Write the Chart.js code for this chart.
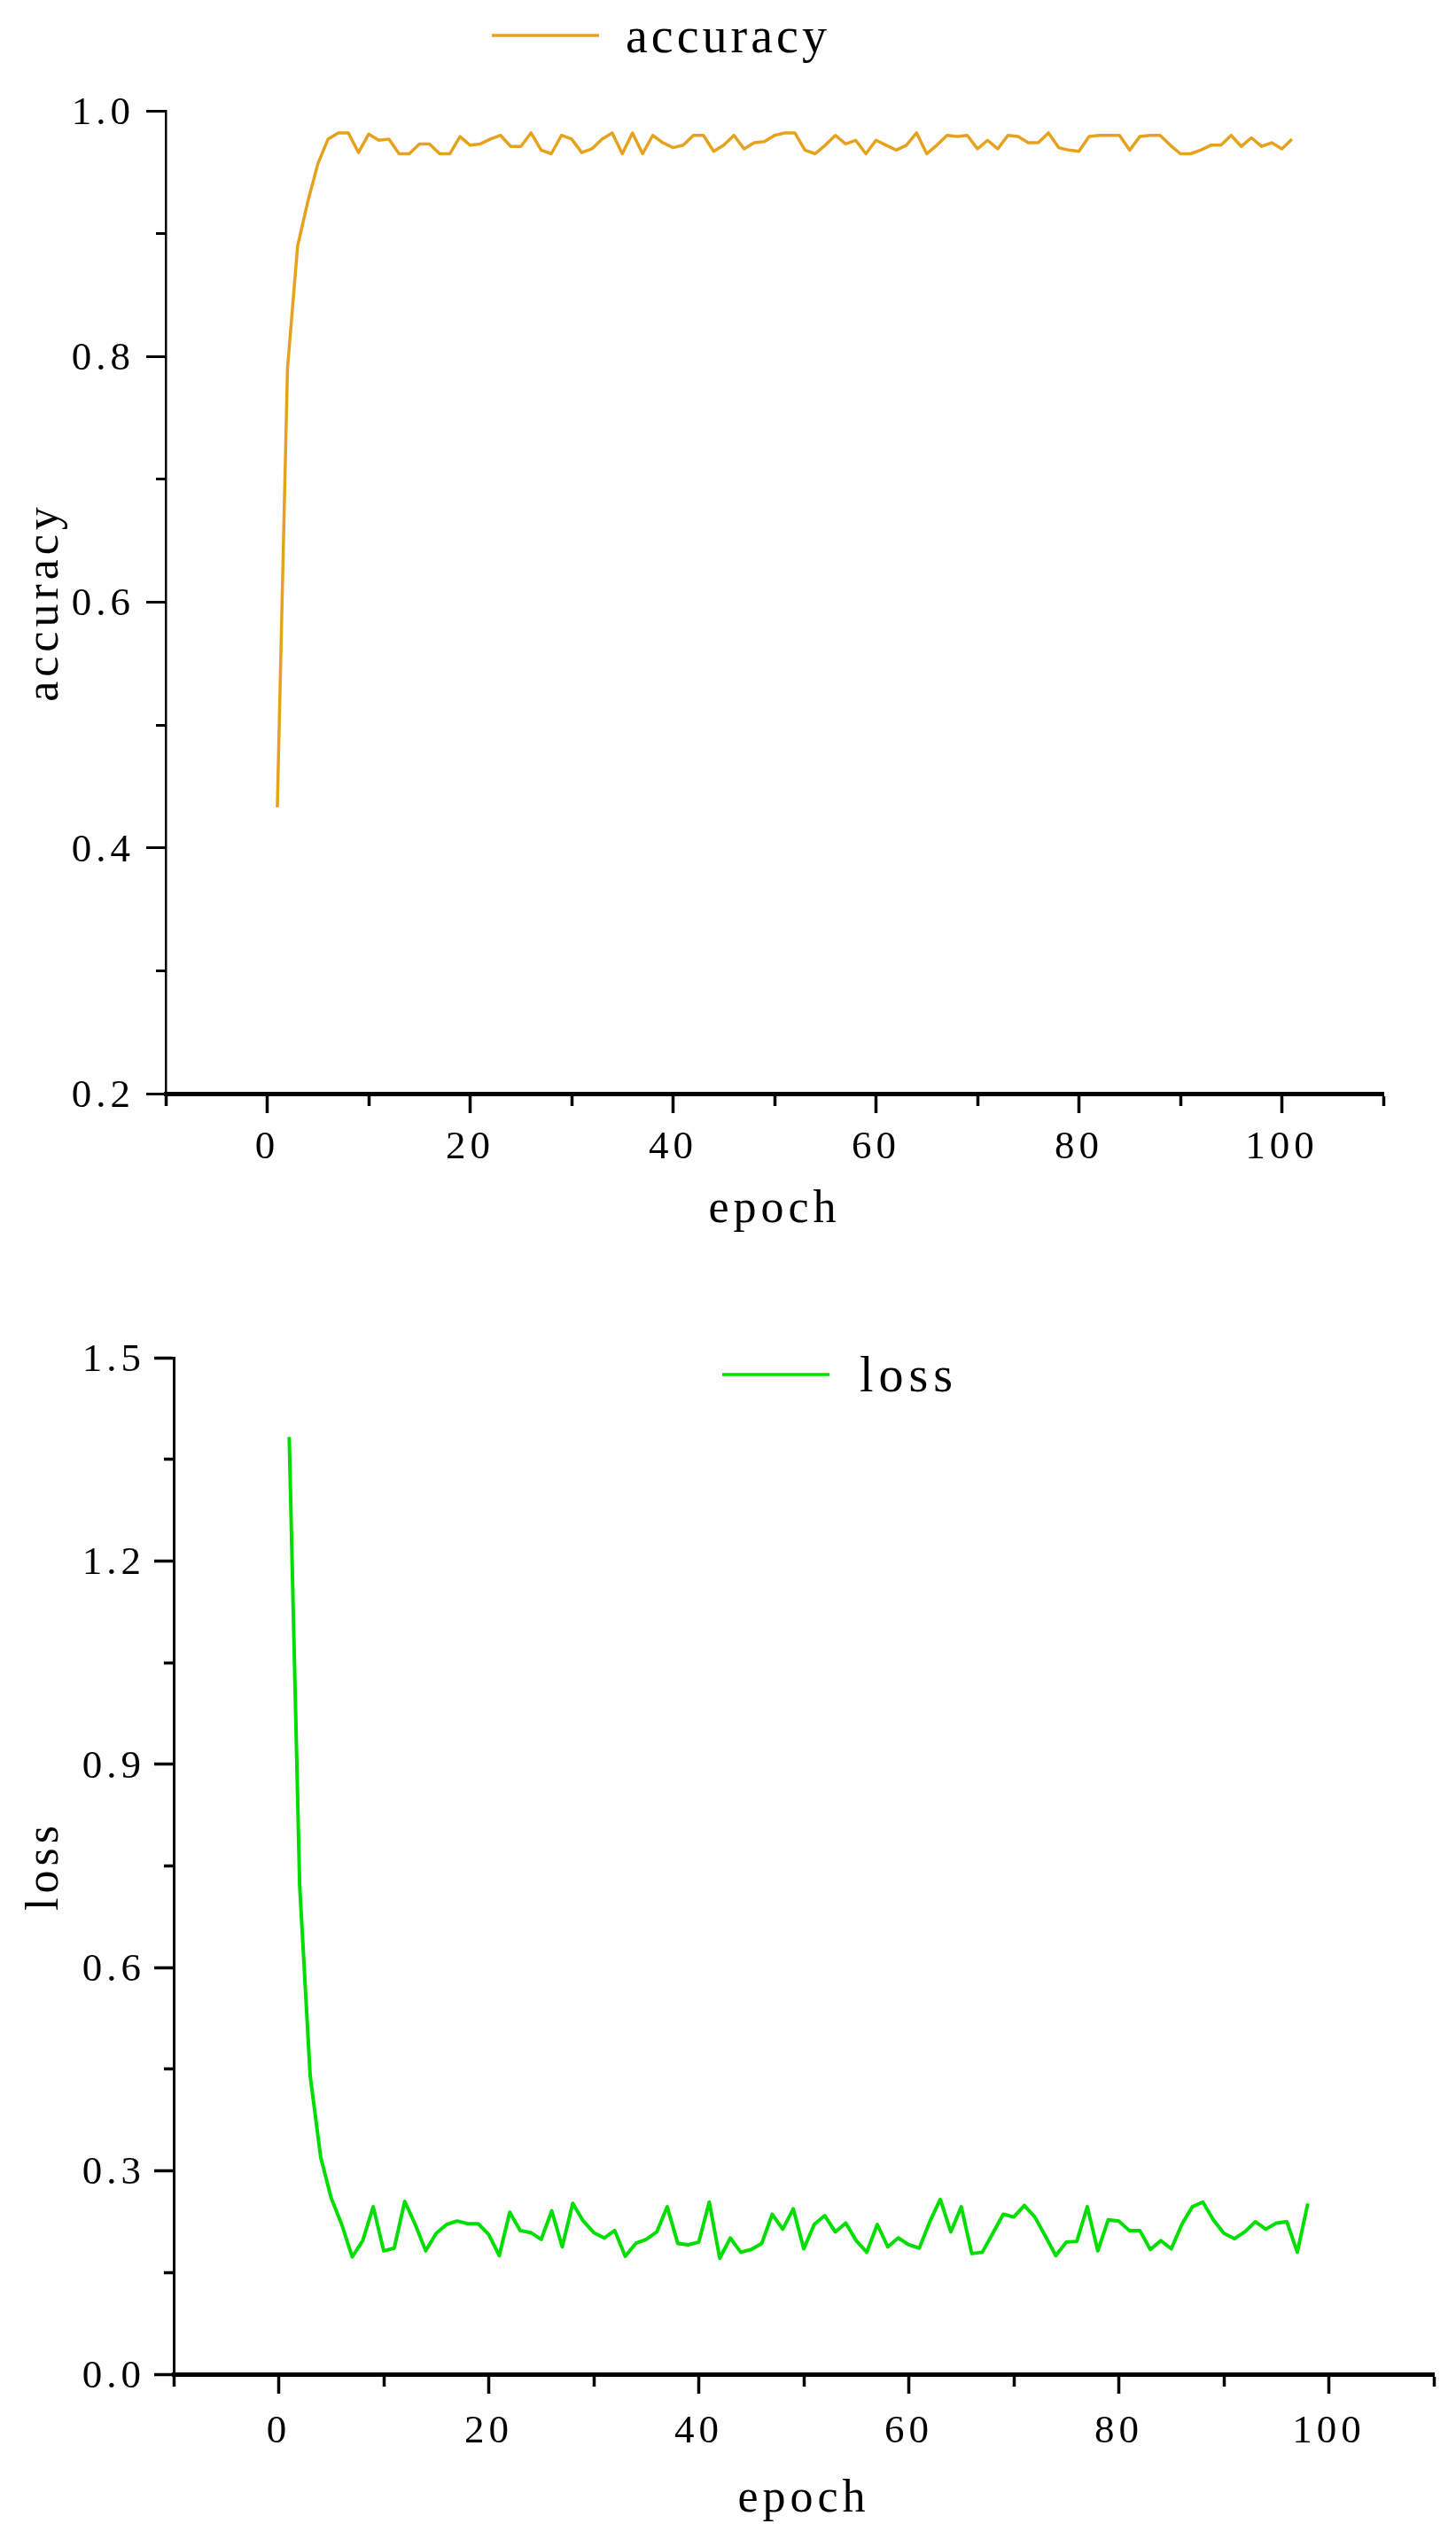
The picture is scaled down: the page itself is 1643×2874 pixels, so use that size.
<!DOCTYPE html>
<html>
<head>
<meta charset="utf-8">
<script src="https://cdn.jsdelivr.net/npm/chart.js@4.4.1/dist/chart.umd.min.js"></script>
<style>
  html, body { margin: 0; padding: 0; background: #ffffff; }
  #wrap { position: relative; width: 1643px; height: 2874px; overflow: hidden; background: #ffffff; }
  canvas { position: absolute; left: 0; }
  #accChart { top: 0; }
  #lossChart { top: 1437px; }
</style>
</head>
<body>
<div id="wrap">
  <canvas id="accChart" width="1643" height="1437"></canvas>
  <canvas id="lossChart" width="1643" height="1437"></canvas>
</div>
<script>
// ---------------- data ----------------
const accuracyValues = [
  0.433, 0.790, 0.890, 0.926, 0.957, 0.977, 0.982, 0.982, 0.966, 0.981,
  0.976, 0.977, 0.965, 0.965, 0.973, 0.973, 0.965, 0.965, 0.979, 0.972,
  0.973, 0.977, 0.980, 0.971, 0.971, 0.982, 0.968, 0.965, 0.980, 0.977,
  0.966, 0.969, 0.977, 0.982, 0.965, 0.982, 0.965, 0.980, 0.974, 0.970,
  0.972, 0.980, 0.980, 0.967, 0.972, 0.980, 0.969, 0.974, 0.975, 0.980,
  0.982, 0.982, 0.968, 0.965, 0.972, 0.980, 0.973, 0.976, 0.965, 0.976,
  0.972, 0.968, 0.972, 0.982, 0.965, 0.972, 0.980, 0.979, 0.980, 0.969,
  0.976, 0.969, 0.980, 0.979, 0.974, 0.974, 0.982, 0.970, 0.968, 0.967,
  0.979, 0.980, 0.980, 0.980, 0.968, 0.979, 0.980, 0.980, 0.972, 0.965,
  0.965, 0.968, 0.972, 0.972, 0.980, 0.971, 0.978, 0.971, 0.974, 0.969,
  0.977
];
const lossValues = [
  1.383, 0.720, 0.440, 0.320, 0.260, 0.221, 0.173, 0.197, 0.247, 0.182,
  0.186, 0.255, 0.221, 0.182, 0.208, 0.221, 0.226, 0.222, 0.222, 0.206,
  0.175, 0.239, 0.212, 0.209, 0.199, 0.241, 0.188, 0.252, 0.226, 0.209,
  0.201, 0.212, 0.174, 0.193, 0.199, 0.210, 0.247, 0.193, 0.191, 0.195,
  0.254, 0.171, 0.201, 0.180, 0.184, 0.193, 0.236, 0.214, 0.244, 0.185,
  0.221, 0.234, 0.210, 0.223, 0.197, 0.180, 0.221, 0.188, 0.201, 0.191,
  0.186, 0.225, 0.258, 0.210, 0.247, 0.178, 0.180, 0.208, 0.236, 0.232,
  0.249, 0.232, 0.204, 0.175, 0.195, 0.196, 0.247, 0.182, 0.228, 0.226,
  0.212, 0.212, 0.184, 0.197, 0.185, 0.221, 0.247, 0.254, 0.228, 0.208,
  0.200, 0.210, 0.225, 0.214, 0.223, 0.225, 0.180, 0.252
];
// epochs (categories): 1..N
const accuracyEpochs = accuracyValues.map((_, i) => i + 1);
const lossEpochs = lossValues.map((_, i) => i + 1);

// tick values
const epochMajorTicks = [0, 20, 40, 60, 80, 100];
const epochMinorTicks = [-10, 10, 30, 50, 70, 90, 110];
const accYMajorTicks = [0.2, 0.4, 0.6, 0.8, 1.0];
const accYMinorTicks = [0.3, 0.5, 0.7, 0.9];
const lossYMajorTicks = [0.0, 0.3, 0.6, 0.9, 1.2, 1.5];
const lossYMinorTicks = [0.15, 0.45, 0.75, 1.05, 1.35];

// ---------------- helpers ----------------
const FONT = "'Liberation Serif', 'Times New Roman', serif";
Chart.defaults.font.family = FONT;
Chart.defaults.color = '#000000';

const isMajor = (v, majors) => majors.some(m => Math.abs(m - v) < 1e-9);

const spacingPlugin = {
  id: 'textSpacing',
  beforeLayout(chart, args, opts) { chart.ctx.letterSpacing = opts.value; },
  beforeDraw(chart, args, opts) { chart.ctx.letterSpacing = opts.value; }
};

const lineLegendPlugin = {
  id: 'lineLegend',
  afterDatasetsDraw(chart, args, o) {
    const ctx = chart.ctx;
    chart.data.datasets.forEach(ds => {
      ctx.save();
      ctx.letterSpacing = o.letterSpacing;
      ctx.strokeStyle = ds.borderColor;
      ctx.lineWidth = o.lineWidth;
      ctx.beginPath();
      ctx.moveTo(o.x, o.lineY);
      ctx.lineTo(o.x + o.length, o.lineY);
      ctx.stroke();
      ctx.font = o.fontSize + 'px ' + FONT;
      ctx.fillStyle = '#000000';
      ctx.textBaseline = 'middle';
      ctx.textAlign = 'left';
      ctx.fillText(ds.label, o.x + o.length + o.gap, o.textY);
      ctx.restore();
    });
  }
};

function tickList(majors, minors) {
  return majors.concat(minors).sort((a, b) => a - b).map(v => ({ value: v }));
}

function xAxis(cfg) {
  return {
    type: 'linear', position: 'bottom', min: -10, max: 110,
    afterBuildTicks: s => { s.ticks = tickList(epochMajorTicks, epochMinorTicks); },
    afterFit: s => { s.height = cfg.height; },
    ticks: {
      autoSkip: false, maxRotation: 0, minRotation: 0,
      font: { size: 45 }, color: '#000', padding: cfg.labelPad,
      callback: v => isMajor(v, epochMajorTicks) ? String(v) : ''
    },
    grid: {
      display: true, drawOnChartArea: false, drawTicks: true,
      tickLength: 22, tickWidth: 3.5, tickColor: '#000',
      tickBorderDash: c => (c.tick && isMajor(c.tick.value, epochMajorTicks)) ? [] : [11, 100]
    },
    border: { display: true, color: '#000', width: cfg.borderWidth },
    title: { display: true, text: 'epoch', color: '#000', font: { size: 52 }, padding: { top: 0, bottom: cfg.titlePad } }
  };
}

function yAxis(cfg) {
  return {
    type: 'linear', position: 'left', min: cfg.min, max: cfg.max,
    afterBuildTicks: s => { s.ticks = tickList(cfg.majors, cfg.minors); },
    afterFit: s => { s.width = cfg.width; },
    ticks: {
      autoSkip: false, font: { size: 45 }, color: '#000', padding: cfg.labelPad, labelOffset: 3,
      callback: v => isMajor(v, cfg.majors) ? Number(v).toFixed(1) : ''
    },
    grid: {
      display: true, drawOnChartArea: false, drawTicks: true,
      tickLength: 22, tickWidth: cfg.tickWidth, tickColor: '#000',
      tickBorderDash: c => (c.tick && isMajor(c.tick.value, cfg.majors)) ? [] : [11, 11],
      tickBorderDashOffset: c => (c.tick && isMajor(c.tick.value, cfg.majors)) ? 0 : 11
    },
    border: { display: true, color: '#000', width: cfg.borderWidth },
    title: { display: true, text: cfg.title, color: '#000', font: { size: 52 }, padding: { top: cfg.titlePad, bottom: 0 } }
  };
}

// ---------------- accuracy chart ----------------
new Chart(document.getElementById('accChart'), {
  type: 'line',
  data: {
    datasets: [{
      label: 'accuracy',
      data: accuracyValues.map((v, i) => ({ x: accuracyEpochs[i], y: v })),
      borderColor: '#E6A21C',
      borderWidth: 3.5,
      borderJoinStyle: 'round',
      pointRadius: 0,
      tension: 0,
      fill: false
    }]
  },
  options: {
    responsive: false, animation: false, devicePixelRatio: 1,
    layout: { padding: { top: 125, left: 0, right: 82, bottom: 0 } },
    plugins: {
      legend: { display: false }, tooltip: { enabled: false },
      textSpacing: { value: '5px' },
      lineLegend: { x: 555, length: 121, lineY: 40, textY: 44, gap: 30, lineWidth: 3.5, fontSize: 56, letterSpacing: '4px' }
    },
    scales: {
      x: xAxis({ height: 203, labelPad: 12, titlePad: 40, borderWidth: 5 }),
      y: yAxis({ min: 0.2, max: 1.0, majors: accYMajorTicks, minors: accYMinorTicks, width: 187,
                 labelPad: 13, tickWidth: 3, borderWidth: 2.5, title: 'accuracy', titlePad: 20 })
    }
  },
  plugins: [spacingPlugin, lineLegendPlugin]
});

// ---------------- loss chart ----------------
new Chart(document.getElementById('lossChart'), {
  type: 'line',
  data: {
    datasets: [{
      label: 'loss',
      data: lossValues.map((v, i) => ({ x: lossEpochs[i], y: v })),
      borderColor: '#00DD00',
      borderWidth: 4,
      borderJoinStyle: 'round',
      pointRadius: 0,
      tension: 0,
      fill: false
    }]
  },
  options: {
    responsive: false, animation: false, devicePixelRatio: 1,
    layout: { padding: { top: 95, left: 0, right: 25, bottom: 0 } },
    plugins: {
      legend: { display: false }, tooltip: { enabled: false },
      textSpacing: { value: '5px' },
      lineLegend: { x: 815, length: 121, lineY: 114, textY: 118, gap: 34, lineWidth: 3.5, fontSize: 56, letterSpacing: '6px' }
    },
    scales: {
      x: xAxis({ height: 195, labelPad: 16, titlePad: 22, borderWidth: 5 }),
      y: yAxis({ min: 0.0, max: 1.5, majors: lossYMajorTicks, minors: lossYMinorTicks, width: 196,
                 labelPad: 10, tickWidth: 3.5, borderWidth: 3, title: 'loss', titlePad: 20 })
    }
  },
  plugins: [spacingPlugin, lineLegendPlugin]
});
</script>
</body>
</html>
